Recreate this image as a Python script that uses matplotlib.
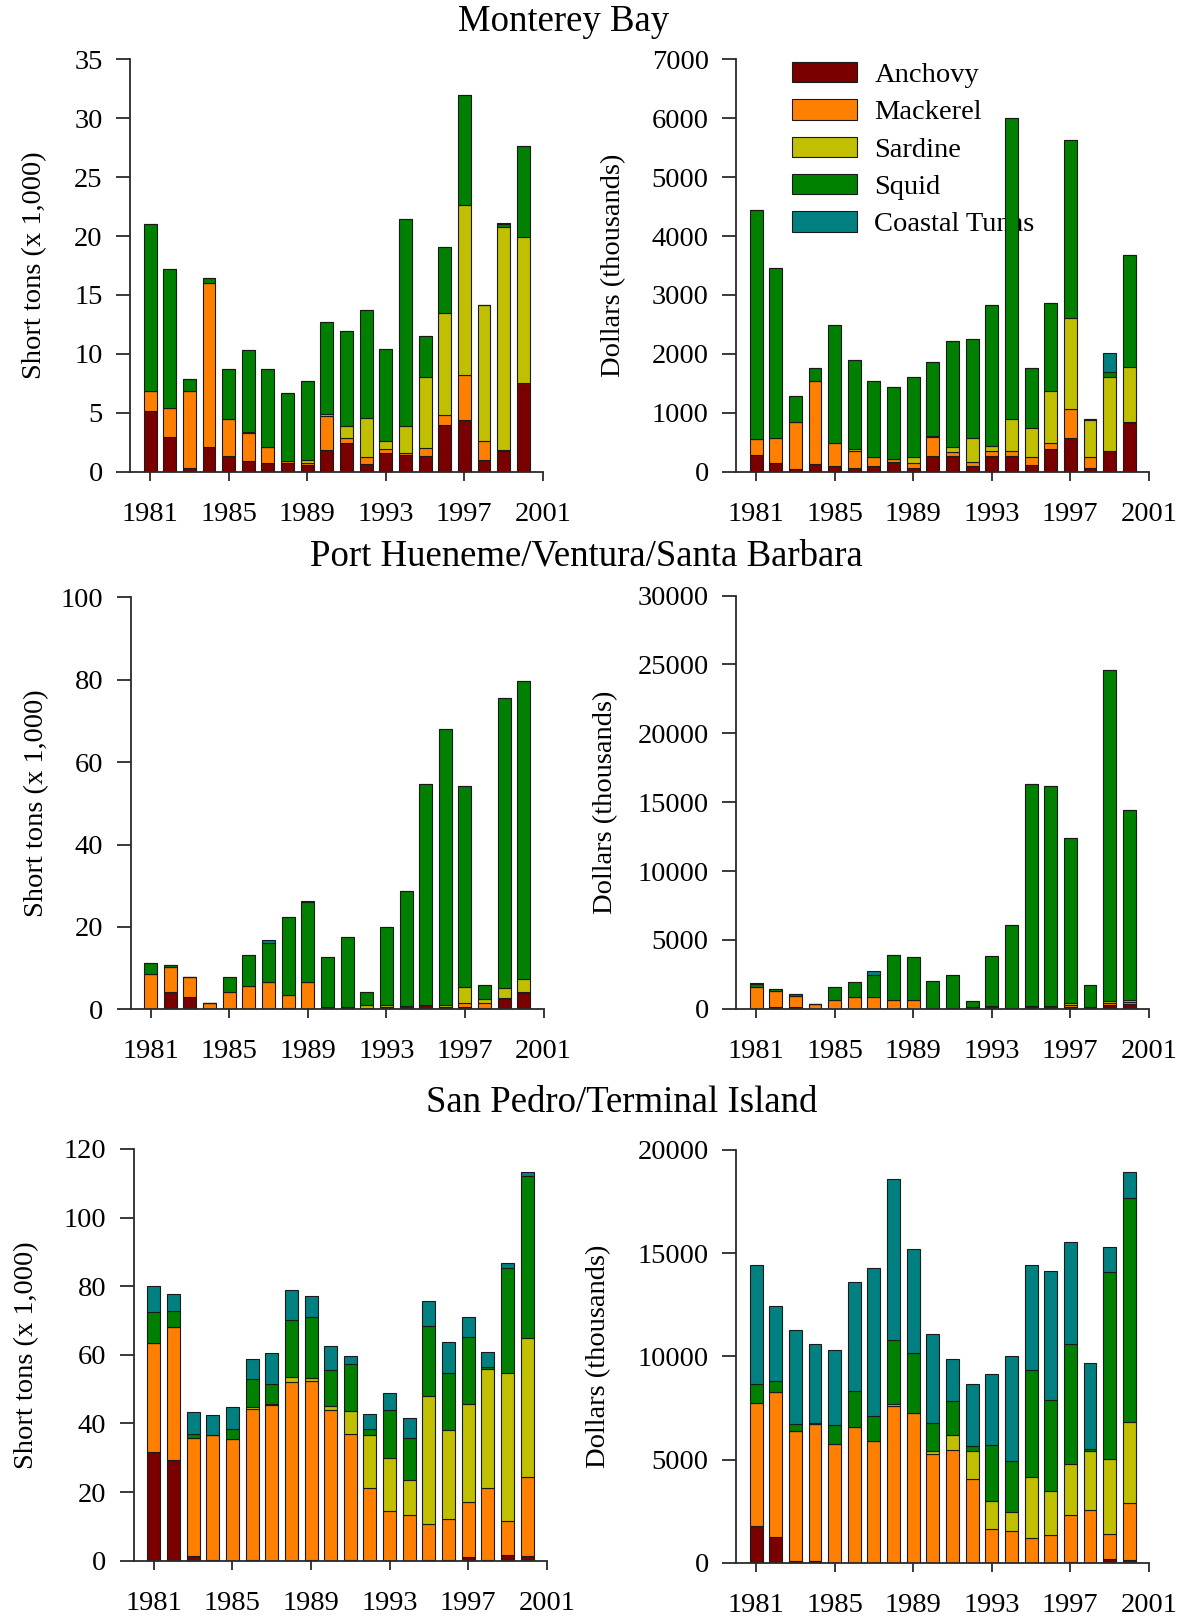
import numpy as np
import matplotlib
matplotlib.use("Agg")
import matplotlib.pyplot as plt

plt.rcParams['font.family'] = ['Liberation Serif', 'DejaVu Serif']
plt.rcParams['font.size'] = 20.5

years = np.arange(1981, 2001)
species = ["Anchovy", "Mackerel", "Sardine", "Squid", "Coastal Tunas"]
colors = ["#7a0000", "#ff8000", "#c0c000", "#008000", "#008080"]

# Monterey Bay landings (short tons x 1,000)
mb_tons_anchovy = [5.15, 2.97, 0.34, 2.12, 1.33, 0.88, 0.76, 0.76, 0.54, 1.84,
                   2.40, 0.65, 1.56, 1.39, 1.33, 3.93, 4.39, 0.99, 1.78, 7.50]
mb_tons_mackerel = [1.70, 2.46, 6.51, 13.88, 3.11, 2.37, 1.31, 0.17, 0.16, 2.91,
                    0.49, 0.57, 0.34, 0.17, 0.65, 0.88, 3.79, 1.61, 0.06, 0.05]
mb_tons_sardine = [0, 0, 0, 0, 0, 0.10, 0, 0, 0.30, 0.15,
                   0.99, 3.31, 0.73, 2.32, 6.02, 8.69, 14.46, 11.55, 18.90, 12.40]
mb_tons_squid = [14.15, 11.77, 1.00, 0.45, 4.28, 6.98, 6.65, 5.72, 6.73, 7.83,
                 8.09, 9.19, 7.81, 17.57, 3.55, 5.54, 9.34, 0, 0.28, 7.70]
mb_tons_tunas = [0, 0, 0.05, 0, 0, 0, 0, 0, 0, 0,
                 0, 0, 0, 0, 0, 0, 0, 0, 0.12, 0]

# Monterey Bay ex-vessel value (dollars, thousands)
mb_usd_anchovy = [283, 153, 45, 130, 102, 68, 96, 170, 68, 266,
                  266, 96, 266, 266, 113, 379, 577, 68, 350, 820]
mb_usd_mackerel = [265, 412, 803, 1413, 378, 282, 147, 50, 73, 316,
                   68, 74, 84, 84, 130, 101, 486, 175, 0, 22]
mb_usd_sardine = [0, 0, 0, 0, 0, 29, 0, 0, 113, 28,
                  90, 395, 85, 538, 492, 894, 1549, 633, 1250, 939]
mb_usd_squid = [3890, 2895, 432, 221, 2007, 1515, 1300, 1221, 1357, 1244,
                1798, 1696, 2391, 5115, 1029, 1498, 3024, 17, 96, 1893]
mb_usd_tunas = [0, 0, 0, 0, 0, 0, 0, 0, 0, 0,
                0, 0, 0, 0, 0, 0, 0, 0, 311, 0]

# Port Hueneme/Ventura/Santa Barbara landings
ph_tons_anchovy = [0, 4.2, 3.1, 0, 0, 0, 0, 0.3, 0, 0.6,
                   0.5, 0.3, 0.6, 0.8, 1.1, 0.5, 0.5, 0.3, 2.4, 4.0]
ph_tons_mackerel = [8.5, 6.0, 4.7, 1.5, 4.2, 5.7, 6.7, 3.3, 6.7, 0,
                    0, 0, 0, 0, 0, 0, 1.1, 1.3, 0.3, 0.3]
ph_tons_sardine = [0, 0, 0, 0, 0, 0, 0, 0, 0, 0,
                   0, 0.8, 0.4, 0, 0, 0.5, 3.9, 0.8, 2.6, 3.0]
ph_tons_squid = [2.7, 0.6, 0.1, 0, 3.6, 7.5, 9.3, 18.7, 19.3, 12.0,
                 17.1, 3.1, 19.1, 27.8, 53.5, 67.0, 48.8, 3.5, 70.2, 72.5]
ph_tons_tunas = [0, 0, 0, 0, 0, 0, 0.8, 0, 0.3, 0,
                 0, 0, 0, 0, 0, 0, 0, 0, 0, 0]

ph_usd_anchovy = [0, 100, 100, 0, 0, 0, 0, 0, 0, 70,
                  70, 100, 190, 60, 190, 190, 150, 150, 270, 340]
ph_usd_mackerel = [1600, 1210, 820, 310, 630, 820, 820, 630, 630, 0,
                   0, 0, 0, 0, 0, 0, 100, 0, 120, 140]
ph_usd_sardine = [0, 0, 0, 0, 0, 0, 0, 0, 0, 0,
                  0, 0, 0, 0, 0, 0, 190, 0, 170, 150]
ph_usd_squid = [200, 90, 120, 0, 970, 1140, 1630, 3270, 3100, 1970,
                2350, 460, 3640, 6000, 16120, 16020, 11990, 1600, 24060, 13810]
ph_usd_tunas = [100, 0, 0, 0, 0, 0, 260, 0, 0, 0,
                0, 0, 0, 0, 0, 0, 0, 0, 0, 0]

# San Pedro/Terminal Island landings
sp_tons_anchovy = [31.6, 29.4, 1.3, 0.3, 0, 0.3, 0, 0, 0.3, 0,
                   0.3, 0, 0, 0, 0.3, 0.3, 1.0, 0.3, 1.6, 1.5]
sp_tons_mackerel = [32.0, 38.8, 34.4, 36.2, 35.4, 44.0, 45.4, 52.2, 52.2, 43.9,
                    36.7, 21.1, 14.5, 13.4, 10.5, 11.9, 16.0, 20.8, 10.1, 23.0]
sp_tons_sardine = [0, 0, 0, 0, 0, 0.4, 0.4, 1.4, 0.7, 1.2,
                   6.5, 15.4, 15.3, 10.0, 37.2, 25.9, 28.7, 34.8, 42.9, 40.3]
sp_tons_squid = [9.0, 4.6, 1.2, 0, 2.9, 8.3, 5.6, 16.5, 17.9, 10.5,
                 13.8, 1.8, 14.1, 12.3, 20.5, 16.7, 19.4, 0.5, 30.8, 47.3]
sp_tons_tunas = [7.6, 4.9, 6.4, 6.0, 6.6, 5.9, 9.0, 8.9, 6.1, 7.0,
                 2.4, 4.6, 4.9, 6.0, 7.2, 9.0, 6.0, 4.3, 1.4, 1.2]

sp_usd_anchovy = [1780, 1260, 80, 80, 0, 0, 0, 0, 0, 0,
                  0, 0, 0, 0, 0, 0, 50, 0, 210, 160]
sp_usd_mackerel = [5970, 7020, 6310, 6670, 5780, 6590, 5910, 7590, 7280, 5300,
                   5490, 4050, 1630, 1550, 1210, 1340, 2260, 2550, 1210, 2750]
sp_usd_sardine = [0, 0, 0, 0, 0, 0, 0, 110, 0, 130,
                  730, 1360, 1360, 920, 2950, 2150, 2470, 2860, 3600, 3920]
sp_usd_squid = [940, 530, 320, 50, 890, 1740, 1190, 3120, 2910, 1360,
                1610, 260, 2740, 2450, 5170, 4420, 5840, 130, 9070, 10860]
sp_usd_tunas = [5730, 3620, 4550, 3780, 3660, 5280, 7200, 7770, 4990, 4290,
                2070, 2990, 3410, 5100, 5090, 6210, 4910, 4160, 1210, 1240]


def stacked(ax, series, ymax, ystep, ylabel, label_x):
    bottom = np.zeros(len(years))
    for vals, c, name in zip(series, colors, species):
        vals = np.array(vals, dtype=float)
        ax.bar(years, vals, width=0.66, bottom=bottom, color=c,
               edgecolor="#1a1a1a", linewidth=0.8, label=name, zorder=2)
        bottom += vals
    ax.set_xlim(1980, 2001)
    ax.set_ylim(0, ymax)
    ax.set_xticks([1981, 1985, 1989, 1993, 1997, 2001])
    ax.set_yticks(np.arange(0, ymax + 1, ystep))
    ax.set_ylabel(ylabel)
    ax.yaxis.label.set_verticalalignment("center")
    ax.yaxis.set_label_coords(label_x, 0.5)
    for s in ["top", "right"]:
        ax.spines[s].set_visible(False)
    for s in ["left", "bottom"]:
        ax.spines[s].set_linewidth(1.3)
        ax.spines[s].set_color("#2a2a2a")
    ax.tick_params(axis="y", direction="out", length=10, width=1.3, pad=10, color="#2a2a2a")
    ax.tick_params(axis="x", direction="out", length=6.7, width=1.3, pad=15, color="#2a2a2a")


fig = plt.figure(figsize=(11.88, 16.16), dpi=100)

ax1 = fig.add_axes([0.1098, 0.7081, 0.3472, 0.2552])
ax2 = fig.add_axes([0.6199, 0.7081, 0.3472, 0.2552])
ax3 = fig.add_axes([0.1103, 0.3754, 0.3472, 0.2550])
ax4 = fig.add_axes([0.6199, 0.3758, 0.3472, 0.2556])
ax5 = fig.add_axes([0.1130, 0.0342, 0.3472, 0.2548])
ax6 = fig.add_axes([0.6199, 0.0328, 0.3472, 0.2556])

stacked(ax1, [mb_tons_anchovy, mb_tons_mackerel, mb_tons_sardine, mb_tons_squid, mb_tons_tunas],
        35, 5, "Short tons (x 1,000)", -0.233)
stacked(ax2, [mb_usd_anchovy, mb_usd_mackerel, mb_usd_sardine, mb_usd_squid, mb_usd_tunas],
        7000, 1000, "Dollars (thousands)", -0.297)
stacked(ax3, [ph_tons_anchovy, ph_tons_mackerel, ph_tons_sardine, ph_tons_squid, ph_tons_tunas],
        100, 20, "Short tons (x 1,000)", -0.228)
stacked(ax4, [ph_usd_anchovy, ph_usd_mackerel, ph_usd_sardine, ph_usd_squid, ph_usd_tunas],
        30000, 5000, "Dollars (thousands)", -0.316)
stacked(ax5, [sp_tons_anchovy, sp_tons_mackerel, sp_tons_sardine, sp_tons_squid, sp_tons_tunas],
        120, 20, "Short tons (x 1,000)", -0.26)
stacked(ax6, [sp_usd_anchovy, sp_usd_mackerel, sp_usd_sardine, sp_usd_squid, sp_usd_tunas],
        20000, 5000, "Dollars (thousands)", -0.333)

# legend sits behind the bars
leg = ax2.legend(loc="upper left", bbox_to_anchor=(0.134, 0.9935), frameon=False,
                 borderpad=0, borderaxespad=0, handlelength=2.30, handleheight=0.73,
                 handletextpad=0.6, labelspacing=0.39, fontsize=20.5)
leg.set_zorder(1)

fig.text(0.4748, 0.9866, "Monterey Bay", ha="center", va="center", fontsize=26.5)
fig.text(0.4933, 0.6559, "Port Hueneme/Ventura/Santa Barbara", ha="center", va="center", fontsize=26.5)
fig.text(0.5236, 0.3178, "San Pedro/Terminal Island", ha="center", va="center", fontsize=26.5)

fig.savefig("out.png", dpi=100)
